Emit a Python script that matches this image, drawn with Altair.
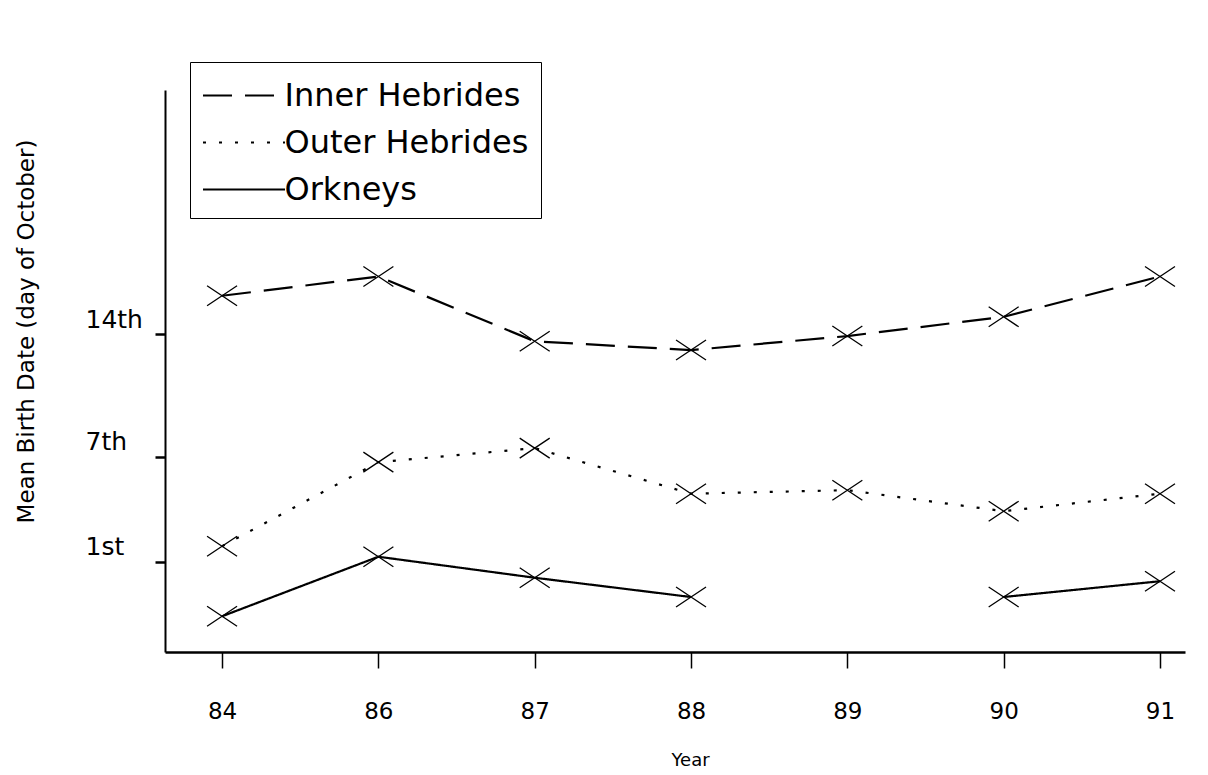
import altair as alt
import pandas as pd

years = ["84", "86", "87", "88", "89", "90", "91"]
series = ["Inner Hebrides", "Outer Hebrides", "Orkneys"]
inner = [16.2, 17.3, 13.6, 13.1, 13.9, 15.0, 17.3]
outer = [1.9, 6.7, 7.5, 4.9, 5.1, 3.9, 4.9]
orkneys = [-2.1, 1.3, 0.1, -1.0, None, -1.0, -0.1]
tick_days = [1, 7, 14]
tick_labels = ["1st", "7th", "14th"]
dashes = [[29, 13], [3, 13], [1, 0]]

rows = []
for name, vals in zip(series, [inner, outer, orkneys]):
    part = 0
    for i, v in enumerate(vals):
        if v is None:
            part += 1
            continue
        rows.append({"series": name, "idx": i, "day": v, "part": f"{name}-{part}"})
df = pd.DataFrame(rows)

x_label_expr = "[" + ",".join(f"'{y}'" for y in years) + "][datum.value]"
y_label_expr = " : ".join(f"datum.value == {d} ? '{l}'" for d, l in zip(tick_days, tick_labels)) + " : ''"

FONT = "DejaVu Sans"

x_enc = alt.X(
    "idx:Q",
    scale=alt.Scale(domain=[-0.365, 6.16], nice=False, zero=False),
    axis=alt.Axis(
        values=list(range(len(years))),
        labelExpr=x_label_expr,
        title="Year",
        grid=False,
        domainColor="black",
        domainWidth=2.5,
        tickColor="black",
        tickWidth=1.5,
        tickSize=16,
        labelPadding=32,
        labelFont=FONT,
        labelFontSize=23,
        labelColor="black",
        titleFont=FONT,
        titleFontSize=18,
        titleFontWeight="normal",
        titleColor="black",
        titleX=525,
        titleY=108,
        titleBaseline="middle",
        titleAlign="center",
    ),
)
y_enc = alt.Y(
    "day:Q",
    scale=alt.Scale(domain=[-4.14, 27.95], nice=False, zero=False),
    axis=alt.Axis(
        values=tick_days,
        labelExpr=y_label_expr,
        title="Mean Birth Date (day of October)",
        grid=False,
        domainColor="black",
        domainWidth=2,
        tickColor="black",
        tickWidth=2.5,
        tickSize=10,
        labelAlign="left",
        labelBaseline="middle",
        labelPadding=70,
        labelOffset=-15,
        labelFont=FONT,
        labelFontSize=25,
        labelColor="black",
        titleFont=FONT,
        titleFontSize=23,
        titleFontWeight="normal",
        titleColor="black",
        titleX=-139,
        titleY=241,
        titleAngle=270,
        titleBaseline="middle",
        titleAlign="center",
    ),
)

lines = alt.Chart(df).mark_line(color="black", strokeWidth=2.2).encode(
    x=x_enc,
    y=y_enc,
    strokeDash=alt.StrokeDash(
        "series:N",
        sort=series,
        scale=alt.Scale(domain=series, range=dashes),
        legend=alt.Legend(
            title=None,
            orient="none",
            legendX=25,
            legendY=-28,
            padding=12,
            strokeColor="black",
            fillColor="white",
            symbolType="M-2,0L2,0",
            symbolSize=1681,
            symbolOffset=20.5,
            symbolStrokeWidth=2,
            symbolStrokeColor="black",
            symbolFillColor="transparent",
            labelFont=FONT,
            labelFontSize=32,
            labelColor="black",
            labelOffset=19,
            rowPadding=9,
            labelLimit=400,
        ),
    ),
    detail="part:N",
)

points = alt.Chart(df).mark_point(
    shape="M-1.5,-1L1.5,1M-1.5,1L1.5,-1",
    size=400,
    filled=False,
    color="black",
    strokeWidth=1.3,
    opacity=1,
).encode(x="idx:Q", y="day:Q")

chart = (
    alt.layer(lines, points)
    .properties(
        width=1020,
        height=562,
        autosize=alt.AutoSizeParams(type="none"),
        padding={"left": 165, "top": 90, "right": 23, "bottom": 123},
        background="white",
    )
    .configure_view(stroke=None)
)

chart.save("out.html", embed_options={"renderer": "svg", "actions": False})
